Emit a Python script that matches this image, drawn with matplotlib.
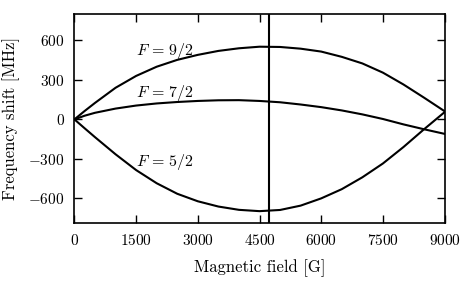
import numpy as np
import matplotlib
matplotlib.use('Agg')
import matplotlib.pyplot as plt

plt.rcParams['font.family'] = 'serif'
plt.rcParams['font.serif'] = ['cmr10']
plt.rcParams['mathtext.fontset'] = 'cm'
plt.rcParams['axes.formatter.use_mathtext'] = True
plt.rcParams['font.size'] = 12

# Magnetic field [G] sample points
field = [0, 250, 500, 1000, 1500, 2000, 2500, 3000, 3500, 4000, 4500,
         5000, 5500, 6000, 6500, 7000, 7500, 8000, 8500, 9000]

# Frequency shifts [MHz]
shift_92 = [0, 64, 125, 240, 330, 400, 452, 490, 520, 540, 552,
            550, 537, 515, 475, 425, 355, 265, 165, 62]
shift_72 = [0, 28, 50, 82, 105, 121, 132, 140, 145, 146, 140,
            130, 113, 93, 68, 38, 3, -38, -75, -110]
shift_52 = [0, -68, -135, -265, -385, -485, -565, -622, -662, -687, -697,
            -688, -655, -600, -530, -440, -335, -210, -75, 55]

field_marker = 4740

labels = [r'$F\,=\,9/2$', r'$F\,=\,7/2$', r'$F\,=\,5/2$']
label_pos = [(1500, 519), (1500, 204), (1500, -325)]

fig = plt.figure(figsize=(4.68, 2.81), dpi=100)
ax = fig.add_axes([0.159, 0.205, 0.791, 0.745])

for ys in [shift_92, shift_72, shift_52]:
    ax.plot(field, ys, color='black', lw=1.5)

ax.axvline(field_marker, color='black', lw=1.5)

for txt, (tx, ty) in zip(labels, label_pos):
    ax.text(tx, ty, txt, ha='left', va='center', fontsize=11.5)

ax.set_xlim(0, 9000)
ax.set_ylim(-790, 800)
ax.set_xticks([0, 1500, 3000, 4500, 6000, 7500, 9000])
ax.set_yticks([-600, -300, 0, 300, 600])
ax.tick_params(direction='in', top=True, right=True, length=6, width=1, pad=7,
               labelsize=11)
for s in ax.spines.values():
    s.set_linewidth(1.2)

ax.set_xlabel('Magnetic field [G]', labelpad=8)
ax.set_ylabel('Frequency shift [MHz]', labelpad=6)

fig.savefig('out.png', dpi=100)
